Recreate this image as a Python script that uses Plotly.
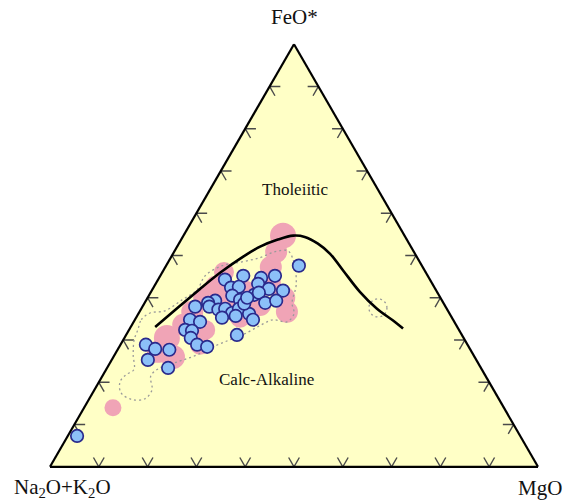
import numpy as np
import plotly.graph_objects as go

# ---- AFM data, wt% (FeO* / Na2O+K2O / MgO) ----
# Irvine & Baragar tholeiitic / calc-alkaline dividing line
curve_feo = [33.1, 38.1, 42.1, 45.9, 49.2, 52.1, 53.7, 54.7, 54.4, 52.8, 50.4, 46.4, 41.4, 37.4, 34.6, 32.7]
curve_alk = [61.9, 54.3, 48.2, 42.2, 36.5, 30.9, 26.6, 22.8, 20.6, 18.7, 17.4, 16.7, 15.8, 14.3, 12.4, 11.3]
curve_mgo = [5.0, 7.6, 9.7, 11.9, 14.3, 17.0, 19.7, 22.5, 25.0, 28.5, 32.2, 36.9, 42.8, 48.3, 53.0, 56.0]

# Samples (blue symbols)
sample_feo = [47.6, 45.2, 44.3, 44.7, 45.2, 43.3, 42.4, 42.6, 42.1, 41.7, 40.7, 41.2, 40.5, 39.5, 39.3,
              38.8, 38.8, 39.3, 37.9, 37.9, 37.2, 37.4, 36.4, 37.4, 35.7, 36.2, 34.8, 35.3, 34.8, 34.3,
              32.4, 32.2, 31.2, 30.5, 28.9, 28.4, 28.9, 27.9, 27.7, 25.3, 23.4, 7.3, 38.6, 40.0]
sample_mgo = [27.2, 17.0, 13.7, 20.9, 23.5, 21.0, 15.9, 17.4, 23.8, 26.9, 21.5, 22.2, 17.1, 19.2, 14.2,
              13.0, 24.7, 26.7, 10.8, 13.7, 15.9, 17.2, 19.1, 20.0, 20.2, 22.7, 24.2, 17.6, 11.3, 13.6,
              11.5, 13.0, 22.7, 13.6, 15.7, 18.0, 5.2, 7.6, 10.6, 7.4, 12.5, 1.9, 20.5, 20.4]
sample_alk = [25.2, 37.8, 42.0, 34.4, 31.3, 35.7, 41.7, 40.0, 34.1, 31.4, 37.8, 36.6, 42.4, 41.3, 46.5,
              48.2, 36.5, 34.0, 51.3, 48.4, 46.9, 45.4, 44.5, 42.6, 44.1, 41.1, 41.0, 47.1, 53.9, 52.1,
              56.1, 54.8, 46.1, 55.9, 55.4, 53.6, 65.9, 64.5, 61.7, 67.3, 64.1, 90.8, 40.9, 39.6]

# Reference suite (pink symbols)
ref_feo = [54.7, 50.9, 47.3, 43.5, 40.0, 36.7, 46.1, 42.6, 40.0, 36.7, 33.6, 30.5, 26.0, 27.2, 14.0,
           41.4, 39.5, 38.3, 35.3, 32.4, 28.9]
ref_mgo = [20.4, 20.9, 21.6, 23.3, 28.0, 30.2, 12.6, 12.7, 11.6, 10.8, 10.5, 8.7, 12.2, 8.5, 5.9,
           19.3, 17.1, 23.9, 21.3, 15.6, 16.3]
ref_alk = [24.9, 28.2, 31.1, 33.2, 32.0, 33.1, 41.3, 44.7, 48.4, 52.5, 55.9, 60.8, 61.8, 64.3, 80.1,
           39.3, 43.4, 37.8, 43.4, 52.0, 54.8]
ref_size = [26, 22, 22, 22, 22, 22, 20, 22, 22, 22, 22, 26, 24, 22, 17, 22, 22, 22, 20, 20, 20]

# Envelope of the reference field (dotted)
field_feo = [32.4, 34.8, 36.4, 36.9, 39.5, 41.9, 45.2, 47.6, 48.5, 49.5, 50.9, 51.1, 48.5, 43.1, 38.8,
             36.2, 34.3, 34.8, 33.4, 31.5, 30.1, 28.4, 26.3, 24.9, 23.4, 21.5, 18.2, 16.1, 15.9, 17.5,
             20.1, 21.8, 23.0, 26.5, 30.1, 32.4]
field_mgo = [1.8, 1.3, 2.3, 5.1, 7.3, 9.2, 9.2, 11.5, 15.1, 18.3, 20.7, 23.2, 25.7, 28.9, 30.2,
             31.9, 31.4, 28.3, 26.3, 24.2, 21.9, 19.2, 16.6, 13.8, 10.8, 9.9, 11.8, 11.4, 8.9, 5.8,
             4.3, 4.7, 5.7, 3.8, 2.2, 1.8]
field_alk = [65.8, 63.9, 61.3, 58.0, 53.2, 48.9, 45.6, 40.9, 36.4, 32.2, 28.4, 25.7, 25.8, 28.0, 31.0,
             31.9, 34.3, 36.9, 40.3, 44.3, 48.0, 52.4, 57.1, 61.3, 65.8, 68.6, 70.0, 72.5, 75.2, 76.7,
             75.6, 73.5, 71.3, 69.7, 67.7, 65.8]

# Small isolated field: centre (FeO*, Na2O+K2O, MgO) and radius (% of side)
spot_centre = (37.6, 14.0, 48.4)
spot_radius = 1.85

tick_values = [10, 20, 30, 40, 50, 60, 70, 80, 90]
tick_len = 2.2

SQ3 = np.sqrt(3.0)


def ring(centre, r, n=40):
    f0, a0, m0 = centre
    x0, y0 = m0 + f0 / 2.0, f0 * SQ3 / 2.0
    th = np.linspace(0, 2 * np.pi, n)
    f = (y0 + r * np.sin(th)) * 2.0 / SQ3
    m = (x0 + r * np.cos(th)) - f / 2.0
    return list(f), list(100 - f - m), list(m)


def tick_marks():
    fa, fb, fc = [], [], []

    def seg(p, q):
        fa.extend([p[0], q[0], None])
        fb.extend([p[1], q[1], None])
        fc.extend([p[2], q[2], None])

    L = tick_len
    for t in tick_values:
        # bottom edge (FeO* = 0): V-shaped stubs
        p = (0, 100 - t, t)
        seg(p, (L, 100 - t, t - L))
        seg(p, (L, 100 - t - L, t))
        # left edge (MgO = 0)
        p = (t, 100 - t, 0)
        seg(p, (t, 100 - t - L, L))
        seg(p, (t - L, 100 - t, L))
        # right edge (alkalis = 0)
        p = (t, 0, 100 - t)
        seg(p, (t, L, 100 - t - L))
        seg(p, (t - L, L, 100 - t))
    return fa, fb, fc


fig = go.Figure()

ta, tb, tc = tick_marks()
fig.add_trace(go.Scatterternary(a=ta, b=tb, c=tc, mode="lines",
                                line=dict(color="#4a4a4a", width=1.4),
                                hoverinfo="skip", showlegend=False))

fig.add_trace(go.Scatterternary(a=ref_feo, b=ref_alk, c=ref_mgo, mode="markers",
                                marker=dict(size=ref_size, color="#F0A4B6", opacity=1,
                                            line=dict(width=0)),
                                showlegend=False))

fig.add_trace(go.Scatterternary(a=field_feo, b=field_alk, c=field_mgo, mode="lines",
                                line=dict(color="#9a9a9a", width=1.3, dash="2px,3px", shape="spline"),
                                hoverinfo="skip", showlegend=False))

sa, sb, sc = ring(spot_centre, spot_radius)
fig.add_trace(go.Scatterternary(a=sa, b=sb, c=sc, mode="lines",
                                line=dict(color="#9a9a9a", width=1.3, dash="2px,3px"),
                                hoverinfo="skip", showlegend=False))

fig.add_trace(go.Scatterternary(a=curve_feo, b=curve_alk, c=curve_mgo, mode="lines",
                                line=dict(color="black", width=2.6, shape="spline"),
                                hoverinfo="skip", showlegend=False))

fig.add_trace(go.Scatterternary(a=sample_feo, b=sample_alk, c=sample_mgo, mode="markers",
                                marker=dict(size=12.5, color="#8CC0F8", opacity=1,
                                            line=dict(color="#2A2A8C", width=1.7)),
                                showlegend=False))

axis_style = dict(showticklabels=False, ticks="", showgrid=False, showline=True,
                  linecolor="black", linewidth=2.2, title=dict(text=""))

fig.update_layout(
    width=574, height=501,
    margin=dict(l=50, r=36, t=44, b=34),
    paper_bgcolor="white",
    font=dict(family="Liberation Serif, Times New Roman, serif", color="#111"),
    ternary=dict(sum=100, bgcolor="#FFFFC6",
                 domain=dict(x=[0, 1], y=[0, 1]),
                 aaxis=axis_style, baxis=axis_style, caxis=axis_style),
    showlegend=False,
)

labels = [
    ("FeO*", 0.5, 1.064, 21),
    ("Na<sub>2</sub>O+K<sub>2</sub>O", 0.026, -0.05, 21),
    ("MgO", 1.004, -0.05, 21),
    ("Tholeiitic", 0.504, 0.655, 17),
    ("Calc-Alkaline", 0.443, 0.206, 17),
]
for txt, x, y, size in labels:
    fig.add_annotation(text=txt, x=x, y=y, xref="paper", yref="paper",
                       showarrow=False, xanchor="center", yanchor="middle",
                       font=dict(size=size, color="#111"))

fig.write_html("out.html")
